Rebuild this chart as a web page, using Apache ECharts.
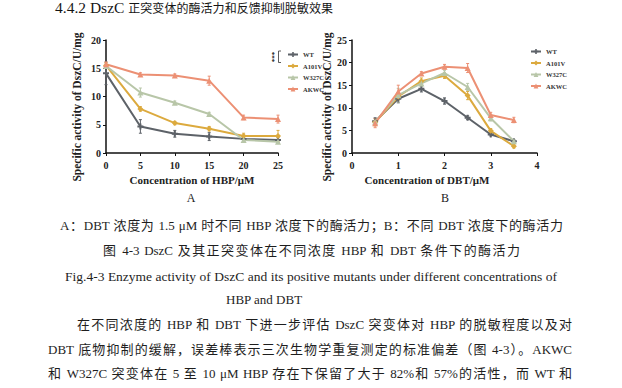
<!DOCTYPE html>
<html><head><meta charset="utf-8">
<script src="https://cdn.jsdelivr.net/npm/echarts@6/dist/echarts.min.js"></script>
<style>
html,body{margin:0;padding:0;background:#fff;}
#wrap{position:relative;width:622px;height:388px;overflow:hidden;background:#fff;}
#chart{position:absolute;left:0;top:0;width:622px;height:388px;}
.ln{position:absolute;white-space:nowrap;font-family:'Liberation Serif','Noto Sans CJK SC',serif;color:#1e1e1e;height:18px;line-height:18px;transform-origin:0 50%;}
.just{text-align:justify;text-align-last:justify;}
</style></head>
<body><div id="wrap"><div id="chart"></div>
<div class="ln" data-w="278" style="left:55px;top:-1px;font-size:12px;color:#151515;"><span style="font-size:15.5px">4.4.2 DszC </span>正突变体的酶活力和反馈抑制脱敏效果</div>
<div class="ln" data-w="503" style="left:60px;top:217px;font-size:13px;">A：DBT 浓度为 1.5 μM 时不同 HBP 浓度下的酶活力；B：不同 DBT 浓度下的酶活力</div>
<div class="ln" data-w="417" style="left:103px;top:242px;font-size:13px;">图 4-3 DszC 及其正突变体在不同浓度 HBP 和 DBT 条件下的酶活力</div>
<div class="ln" data-w="492" style="left:65px;top:268px;font-size:13.5px;">Fig.4-3 Enzyme activity of DszC and its positive mutants under different concentrations of</div>
<div class="ln" data-c="264" style="left:233px;top:291px;font-size:13px;">HBP and DBT</div>
<div class="ln" data-w="495" style="left:77px;top:316px;font-size:13px;">在不同浓度的 HBP 和 DBT 下进一步评估 DszC 突变体对 HBP 的脱敏程度以及对</div>
<div class="ln" data-w="524" style="left:48px;top:341px;font-size:13px;">DBT 底物抑制的缓解，误差棒表示三次生物学重复测定的标准偏差（图 4-3）。AKWC</div>
<div class="ln" data-w="524" style="left:48px;top:365px;font-size:13px;">和 W327C 突变体在 5 至 10 μM HBP 存在下保留了大于 82%和 57%的活性，而 WT 和</div>
</div>
<script>
// ---- data ----
const seriesNames = ['WT', 'A101V', 'W327C', 'AKWC'];
const hbpConc = [0, 5, 10, 15, 20, 25];
const dbtConc = [0.5, 1, 1.5, 2, 2.5, 3, 3.5];
const hbpTicks = [0, 5, 10, 15, 20, 25];
const dbtTicks = [0, 1, 2, 3, 4];

const hbpWT    = [14.1, 4.7, 3.4, 2.9, 2.5, 2.3];
const hbpA101V = [15.5, 7.8, 5.3, 4.3, 3.0, 3.0];
const hbpW327C = [15.4, 10.7, 8.9, 6.9, 2.3, 2.0];
const hbpAKWC  = [15.7, 13.9, 13.7, 12.8, 6.3, 6.0];
const hbpWTErr    = [2.0, 1.2, 0.6, 0.7, 0.3, 0.4];
const hbpA101VErr = [0.5, 0.4, 0.3, 0.4, 0.5, 1.0];
const hbpW327CErr = [0.4, 0.8, 0.3, 0.3, 0.3, 0.3];
const hbpAKWCErr  = [0.4, 0.3, 0.3, 0.8, 0.4, 0.7];

const dbtWT    = [7.0, 12.0, 14.2, 11.5, 7.8, 4.1, 2.6];
const dbtA101V = [6.8, 12.5, 15.9, 17.1, 12.7, 4.9, 1.5];
const dbtW327C = [6.9, 12.8, 15.4, 17.7, 14.6, 7.7, 2.6];
const dbtAKWC  = [6.6, 13.6, 17.6, 19.1, 18.8, 8.4, 7.3];
const dbtWTErr    = [0.8, 0.9, 0.7, 0.7, 0.4, 0.3, 0.3];
const dbtA101VErr = [0.8, 0.8, 0.7, 0.6, 0.9, 0.5, 0.4];
const dbtW327CErr = [0.7, 1.5, 0.6, 0.6, 0.8, 0.6, 0.3];
const dbtAKWCErr  = [1.0, 1.4, 0.4, 0.5, 1.0, 0.6, 0.6];

// ---- styles ----
const colors = ['#5d6268', '#dcaa3e', '#b8c6a8', '#ec9074'];
const symbols = ['path://M2,0H4V2H6V4H4V6H2V4H0V2H2Z', 'diamond', 'triangle', 'triangle'];
const serif = "'Liberation Serif', 'Times New Roman', serif";

// fit document lines: justify if short, compress horizontally if long
document.querySelectorAll('.ln').forEach(el => {
  el.style.width = 'auto';
  const nat = el.scrollWidth;
  if (el.dataset.c) {
    el.style.left = (+el.dataset.c - nat / 2).toFixed(1) + 'px';
    return;
  }
  const w = +el.dataset.w;
  if (nat > w) {
    el.style.width = nat + 'px';
    el.style.transform = 'scaleX(' + (w / nat).toFixed(4) + ')';
  } else {
    el.classList.add('just');
    el.style.width = w + 'px';
  }
});

const chart = echarts.init(document.getElementById('chart'), null, {renderer: 'svg'});

function lineSeries(name, idx, xs, ys, axis) {
  return {
    type: 'line', name: name, xAxisIndex: axis, yAxisIndex: axis,
    data: xs.map((x, i) => [x, ys[i]]),
    symbol: symbols[idx], symbolSize: 6,
    lineStyle: {color: colors[idx], width: 2},
    itemStyle: {color: colors[idx]},
    z: 3, animation: false
  };
}
function errSeries(name, idx, xs, ys, es, axis) {
  return {
    type: 'custom', name: name + ' err', xAxisIndex: axis, yAxisIndex: axis,
    data: xs.map((x, i) => [x, ys[i] - es[i], ys[i] + es[i]]),
    encode: {x: 0, y: [1, 2]},
    renderItem: function (params, api) {
      const x = api.value(0);
      const lo = api.coord([x, api.value(1)]);
      const hi = api.coord([x, api.value(2)]);
      const c = 1.5;
      const st = {stroke: colors[idx], lineWidth: 1};
      return {type: 'group', children: [
        {type: 'line', shape: {x1: lo[0], y1: lo[1], x2: hi[0], y2: hi[1]}, style: st},
        {type: 'line', shape: {x1: lo[0] - c, y1: lo[1], x2: lo[0] + c, y2: lo[1]}, style: st},
        {type: 'line', shape: {x1: hi[0] - c, y1: hi[1], x2: hi[0] + c, y2: hi[1]}, style: st}
      ]};
    },
    z: 2, silent: true, animation: false
  };
}

const hbpSets = [[hbpWT, hbpWTErr], [hbpA101V, hbpA101VErr], [hbpW327C, hbpW327CErr], [hbpAKWC, hbpAKWCErr]];
const dbtSets = [[dbtWT, dbtWTErr], [dbtA101V, dbtA101VErr], [dbtW327C, dbtW327CErr], [dbtAKWC, dbtAKWCErr]];

const series = [];
seriesNames.forEach((n, i) => series.push(errSeries(n, i, hbpConc, hbpSets[i][0], hbpSets[i][1], 0)));
seriesNames.forEach((n, i) => series.push(errSeries(n, i, dbtConc, dbtSets[i][0], dbtSets[i][1], 1)));
seriesNames.forEach((n, i) => series.push(lineSeries(n, i, hbpConc, hbpSets[i][0], 0)));
seriesNames.forEach((n, i) => series.push(lineSeries(n, i, dbtConc, dbtSets[i][0], 1)));

const axisCommon = {
  axisLine: {show: true, lineStyle: {color: '#111', width: 1.5}},
  axisTick: {show: true, length: 3, lineStyle: {color: '#111', width: 1}},
  splitLine: {show: false},
  axisLabel: {color: '#222', fontFamily: serif, fontWeight: 'bold', fontSize: 10}
};

function xAxis(idx, ticks) {
  return Object.assign({}, axisCommon, {
    type: 'value', gridIndex: idx, min: ticks[0], max: ticks[ticks.length - 1],
    interval: ticks[1] - ticks[0],
    axisLabel: Object.assign({}, axisCommon.axisLabel, {margin: 7})
  });
}
function yAxis(idx, max) {
  return Object.assign({}, axisCommon, {
    type: 'value', gridIndex: idx, min: 0, max: max, interval: 5,
    axisLabel: Object.assign({}, axisCommon.axisLabel, {margin: 5})
  });
}

const legendCommon = {
  orient: 'vertical', data: seriesNames, itemWidth: 10, itemHeight: 6, itemGap: 4.5,
  textStyle: {fontFamily: serif, fontWeight: 'bold', fontSize: 6.5, color: '#333'},
  selectedMode: false
};

function txt(x, y, s, size, bold, rot) {
  return {type: 'text', x: x, y: y, rotation: rot || 0,
    style: {text: s, x: 0, y: 0, align: 'center', verticalAlign: 'middle',
      font: (bold ? 'bold ' : '') + size + 'px ' + serif, fill: '#222'}};
}

chart.setOption({
  animation: false,
  backgroundColor: 'transparent',
  grid: [
    {left: 106, top: 40, width: 172, height: 113},
    {left: 352, top: 40, width: 185, height: 113}
  ],
  xAxis: [xAxis(0, hbpTicks), xAxis(1, dbtTicks)],
  yAxis: [yAxis(0, 20), yAxis(1, 25)],
  legend: [
    Object.assign({}, legendCommon, {left: 282, top: 46}),
    Object.assign({}, legendCommon, {left: 525, top: 43})
  ],
  graphic: [
    txt(77, 107, 'Specific activity of DszC/U/mg', 11.5, true, Math.PI / 2),
    txt(327, 107, 'Specific activity of DszC/U/mg', 11.5, true, Math.PI / 2),
    txt(192, 180, 'Concentration of HBP/μM', 11, true),
    txt(427, 180, 'Concentration of DBT/μM', 11, true),
    txt(191, 198, 'A', 12, false),
    txt(445, 198, 'B', 12, false),
    txt(274, 57, '***', 7, true, Math.PI / 2),
    {type: 'polyline', shape: {points: [[281, 51], [278.5, 51], [278.5, 62.5], [281, 62.5]]},
      style: {stroke: '#333', lineWidth: 0.8, fill: null}}
  ],
  series: series
});
</script>
</body></html>
